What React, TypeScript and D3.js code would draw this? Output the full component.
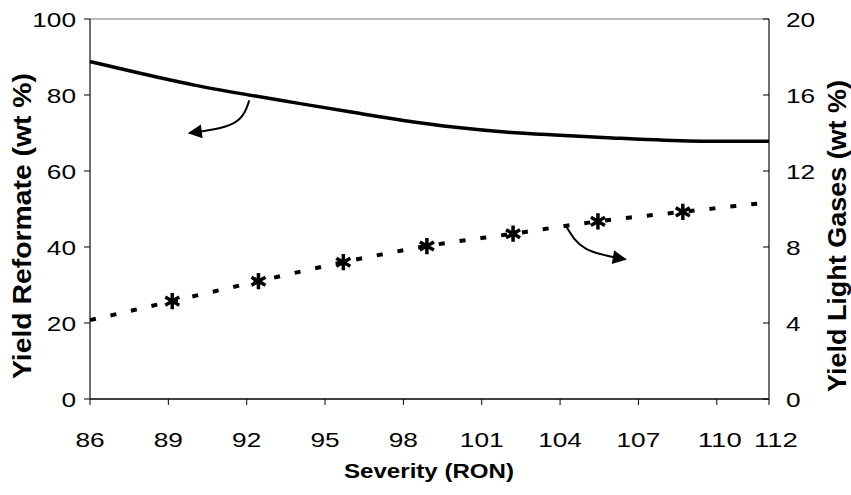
import React from "react";
import * as d3 from "d3";

const W = 851;
const H = 495;

// X axis (Severity, RON)
const xTicks = [86, 89, 92, 95, 98, 101, 104, 107, 110, 112];
// Left axis (Yield Reformate, wt %)
const leftTicks = [0, 20, 40, 60, 80, 100];
// Right axis (Yield Light Gases, wt %)
const rightTicks = [0, 4, 8, 12, 16, 20];

// Reformate yield curve (left axis)
const reformateX = [86, 88, 90, 92, 94, 96, 98, 100, 102, 104, 106, 108, 110, 112];
const reformateY = [88.8, 85.6, 82.6, 80.1, 77.8, 75.5, 73.3, 71.5, 70.2, 69.4, 68.7, 68.1, 67.8, 67.8];

// Light gases yield curve (right axis)
const gasX = [86, 89.15, 92.45, 95.7, 98.9, 102.2, 105.45, 108.7, 112];
const gasY = [4.15, 5.15, 6.2, 7.2, 8.05, 8.7, 9.35, 9.85, 10.35];
const gasMarkerIdx = [1, 2, 3, 4, 5, 6, 7];

// Annotation arrows (data coordinates)
const arrowLeftX = [92.1, 91.5, 89.8];
const arrowLeftY = [78.6, 72.6, 70.0];
const arrowRightX = [104.25, 105.0, 106.5];
const arrowRightY = [9.05, 7.9, 7.35];

const TICK_FS = 21;
const STRETCH = 1.25;
const tl = (s: string) => s.length * 0.556 * TICK_FS * STRETCH;

export default function App() {
  const m = { left: 90, right: 769, top: 19, bottom: 399 };
  const x = d3.scaleLinear().domain([86, 112]).range([m.left, m.right]);
  const yL = d3.scaleLinear().domain([0, 100]).range([m.bottom, m.top]);
  const yR = d3.scaleLinear().domain([0, 20]).range([m.bottom, m.top]);

  const lineL = d3
    .line<number>()
    .x((_, i) => x(reformateX[i]))
    .y((d) => yL(d))
    .curve(d3.curveMonotoneX);
  const lineR = d3
    .line<number>()
    .x((_, i) => x(gasX[i]))
    .y((d) => yR(d))
    .curve(d3.curveMonotoneX);

  const arrowL = d3
    .line<number>()
    .x((_, i) => x(arrowLeftX[i]))
    .y((d) => yL(d))
    .curve(d3.curveNatural);
  const arrowR = d3
    .line<number>()
    .x((_, i) => x(arrowRightX[i]))
    .y((d) => yR(d))
    .curve(d3.curveNatural);

  const star = d3.symbol().type(d3.symbolAsterisk).size(185)();
  const font = "'Liberation Sans', Arial, Helvetica, sans-serif";
  const xLabelShift = (t: number) => (t === 112 ? 7 : t === 110 ? 3 : 0);

  return (
    <svg
      width={W}
      height={H}
      style={{ position: "absolute", left: 0, top: 0, background: "#fff" }}
      fontFamily={font}
    >
      <defs>
        <marker
          id="ah"
          viewBox="0 0 10 10"
          refX="9"
          refY="5"
          markerWidth="17"
          markerHeight="14"
          markerUnits="userSpaceOnUse"
          orient="auto"
        >
          <path d="M0,0 L10,5 L0,10 Z" fill="#000" />
        </marker>
      </defs>

      {/* frame */}
      <line x1={m.left} x2={m.right} y1={m.top} y2={m.top} stroke="#777" strokeWidth={1} />
      <line x1={m.left} x2={m.right} y1={m.bottom} y2={m.bottom} stroke="#000" strokeWidth={1.3} />
      <line x1={m.left} x2={m.left} y1={m.top} y2={m.bottom} stroke="#222" strokeWidth={1.3} />
      <line x1={m.right} x2={m.right} y1={m.top} y2={m.bottom} stroke="#222" strokeWidth={1.3} />

      {/* x ticks */}
      {xTicks.map((t) => (
        <g key={"x" + t}>
          <line x1={x(t)} x2={x(t)} y1={m.bottom} y2={m.bottom + 6} stroke="#000" />
          <text
            x={x(t) + xLabelShift(t)}
            y={447}
            fontSize={TICK_FS}
            textAnchor="middle"
            textLength={tl(String(t))}
            lengthAdjust="spacingAndGlyphs"
          >
            {t}
          </text>
        </g>
      ))}
      {/* left ticks */}
      {leftTicks.map((t) => (
        <g key={"l" + t}>
          <line x1={m.left - 6} x2={m.left} y1={yL(t)} y2={yL(t)} stroke="#000" />
          <text
            x={76}
            y={yL(t) + 7.5}
            fontSize={TICK_FS}
            textAnchor="end"
            textLength={tl(String(t))}
            lengthAdjust="spacingAndGlyphs"
          >
            {t}
          </text>
        </g>
      ))}
      {/* right ticks */}
      {rightTicks.map((t) => (
        <g key={"r" + t}>
          <line x1={m.right - 6} x2={m.right} y1={yR(t)} y2={yR(t)} stroke="#000" />
          <text
            x={786}
            y={yR(t) + 7.5}
            fontSize={TICK_FS}
            textAnchor="start"
            textLength={tl(String(t))}
            lengthAdjust="spacingAndGlyphs"
          >
            {t}
          </text>
        </g>
      ))}

      {/* axis titles */}
      <text
        x={429}
        y={478}
        fontSize={20}
        fontWeight="bold"
        textAnchor="middle"
        textLength={170}
        lengthAdjust="spacingAndGlyphs"
      >
        Severity (RON)
      </text>
      <text
        transform={`translate(31,226) rotate(-90)`}
        fontSize={25}
        fontWeight="bold"
        textAnchor="middle"
        textLength={306}
        lengthAdjust="spacingAndGlyphs"
      >
        Yield Reformate (wt %)
      </text>
      <text
        transform={`translate(846,236) rotate(-90)`}
        fontSize={25}
        fontWeight="bold"
        textAnchor="middle"
        textLength={312}
        lengthAdjust="spacingAndGlyphs"
      >
        Yield Light Gases (wt %)
      </text>

      {/* reformate line */}
      <path d={lineL(reformateY) || ""} fill="none" stroke="#000" strokeWidth={3.5} />

      {/* light gases dashed line */}
      <path
        d={lineR(gasY) || ""}
        fill="none"
        stroke="#000"
        strokeWidth={4}
        strokeDasharray="6 15"
      />
      {gasMarkerIdx.map((i) => (
        <path
          key={"s" + i}
          d={star || ""}
          transform={`translate(${x(gasX[i])},${yR(gasY[i])})`}
          fill="none"
          stroke="#000"
          strokeWidth={3.5}
        />
      ))}

      {/* annotation arrows */}
      <path d={arrowL(arrowLeftY) || ""} fill="none" stroke="#000" strokeWidth={2} markerEnd="url(#ah)" />
      <path d={arrowR(arrowRightY) || ""} fill="none" stroke="#000" strokeWidth={2} markerEnd="url(#ah)" />
    </svg>
  );
}
